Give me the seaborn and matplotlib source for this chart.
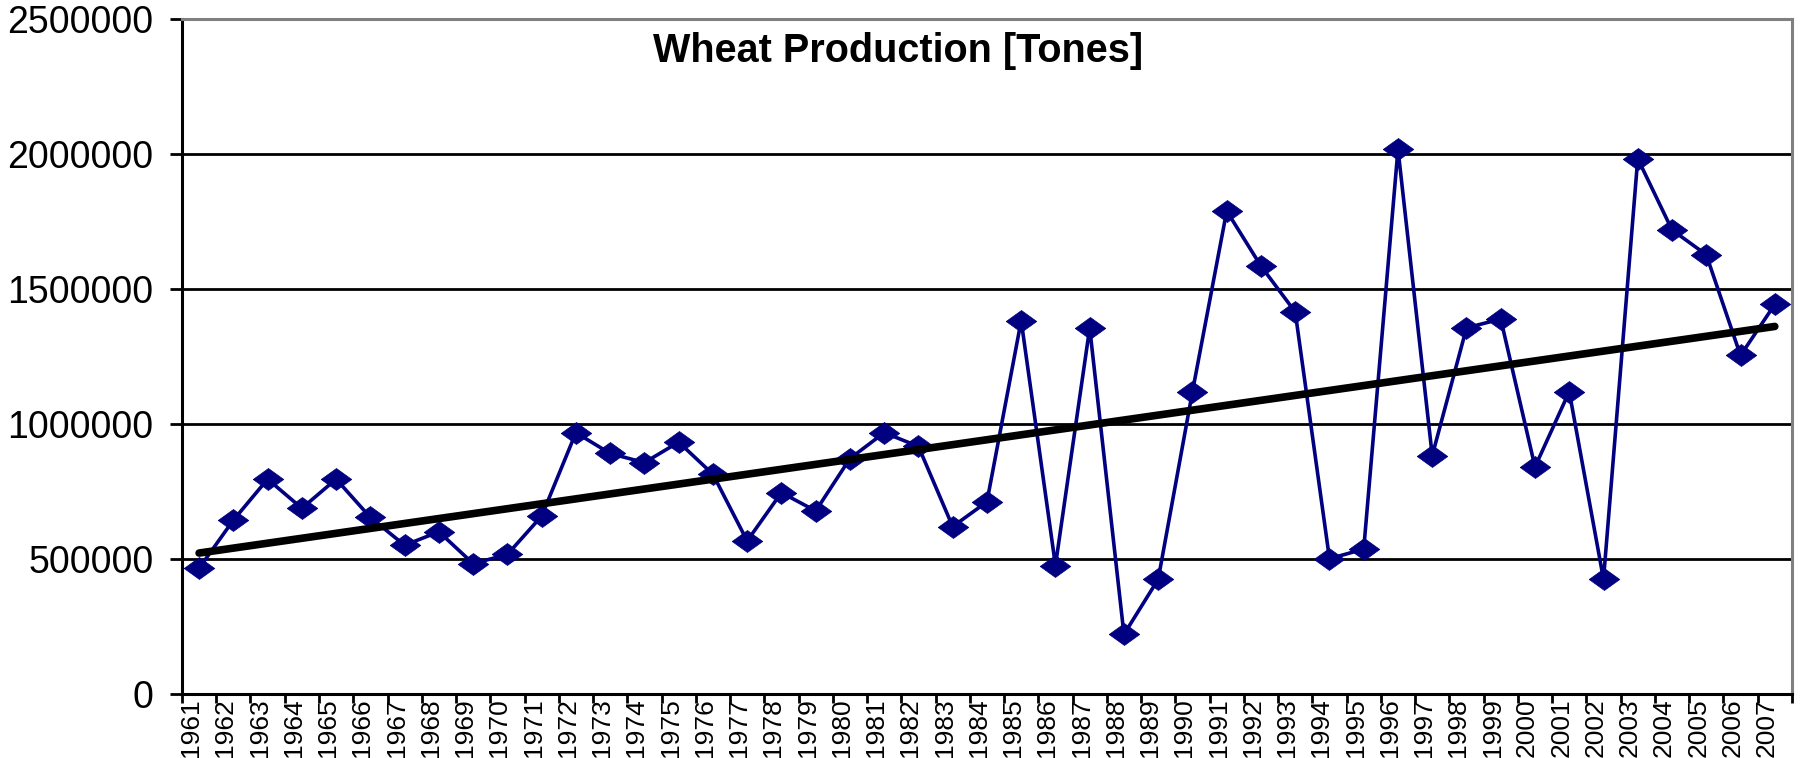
"""
Production de ble par annee, avec droite de tendance lineaire.
Sortie : out.png (1800x758)
"""
import numpy as np
import pandas as pd
import matplotlib
matplotlib.use("Agg")
import matplotlib.pyplot as plt
import matplotlib.transforms as mtransforms
import seaborn as sns

years = [1961, 1962, 1963, 1964, 1965, 1966, 1967, 1968, 1969, 1970,
         1971, 1972, 1973, 1974, 1975, 1976, 1977, 1978, 1979, 1980,
         1981, 1982, 1983, 1984, 1985, 1986, 1987, 1988, 1989, 1990,
         1991, 1992, 1993, 1994, 1995, 1996, 1997, 1998, 1999, 2000,
         2001, 2002, 2003, 2004, 2005, 2006, 2007]

production = [466000, 644000, 796000, 688000, 796000, 654000, 551000, 601000,
              483000, 517000, 659000, 968000, 891000, 857000, 933000, 814000,
              567000, 746000, 678000, 872000, 968000, 917000, 620000, 712000,
              1383000, 476000, 1356000, 221000, 425000, 1120000, 1789000,
              1585000, 1415000, 501000, 537000, 2018000, 883000, 1356000,
              1389000, 841000, 1120000, 425000, 1983000, 1719000, 1627000,
              1254000, 1443000]

y_ticks = [0, 500000, 1000000, 1500000, 2000000, 2500000]
title = "Wheat Production [Tones]"

NAVY = "#000080"

sns.set_theme(style="white", rc={"text.color": "black", "xtick.color": "black",
                                 "ytick.color": "black", "axes.labelcolor": "black"})
plt.rcParams["font.family"] = ["Liberation Sans", "DejaVu Sans"]

df = pd.DataFrame({"pos": np.arange(len(years)), "year": years, "tones": production})

fig = plt.figure(figsize=(18, 7.58), dpi=100)
ax = fig.add_axes([0.1011, 0.0844, 0.8944, 0.8905])

# losange plus large que haut, comme dans Excel
diamond = [(-1, 0), (0, 0.72), (1, 0), (0, -0.72), (-1, 0)]
sns.lineplot(data=df, x="pos", y="tones", color=NAVY, lw=2.6, marker=diamond,
             markersize=22, markeredgecolor=NAVY, markerfacecolor=NAVY,
             markeredgewidth=0.5, ax=ax, zorder=3)
# tendance lineaire (moindres carres)
sns.regplot(data=df, x="pos", y="tones", scatter=False, ci=None, truncate=True,
            line_kws=dict(color="black", lw=5.5, zorder=4), ax=ax)

ax.set_xlim(-0.5, len(years) - 0.5)
ax.set_ylim(0, 2500000)
ax.set_xlabel("")
ax.set_ylabel("")

ax.set_yticks(y_ticks, [str(v) for v in y_ticks])
ax.yaxis.grid(True, color="black", lw=2)
ax.set_axisbelow(True)
ax.tick_params(axis="y", length=8.6, width=2, direction="out", pad=12,
               labelsize=27, left=True)

ax.set_xticks(df["pos"], [str(y) for y in years], rotation=90)
ax.set_xticks(np.arange(len(years) + 1) - 0.5, minor=True)
ax.tick_params(axis="x", which="major", length=0, pad=3, labelsize=19)
ax.tick_params(axis="x", which="minor", length=6.5, width=2, direction="out",
               bottom=True)
offset = mtransforms.ScaledTranslation(-8 / 100, 0, fig.dpi_scale_trans)
for lab in ax.get_xticklabels():
    lab.set_transform(lab.get_transform() + offset)

for side in ["left", "bottom"]:
    ax.spines[side].set_color("black")
    ax.spines[side].set_linewidth(2.2)
for side in ["top", "right"]:
    ax.spines[side].set_color("#808080")
    ax.spines[side].set_linewidth(2.2)

ax.text(0.4447, 0.936, title, transform=ax.transAxes, ha="center",
        va="baseline", fontsize=28.5, fontweight="bold")

fig.savefig("out.png", dpi=100)
